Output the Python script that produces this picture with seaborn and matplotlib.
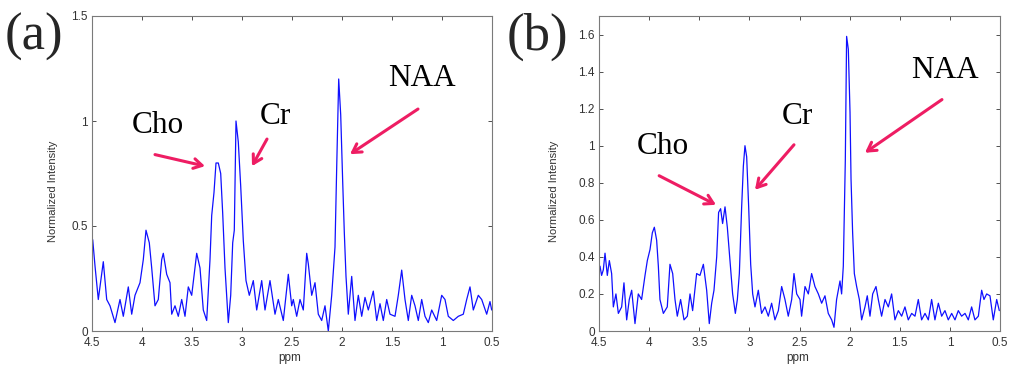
import matplotlib
matplotlib.use("Agg")
import matplotlib.pyplot as plt
import seaborn as sns
import pandas as pd

# ---- data ----
ppm_a = [4.493, 4.47, 4.437, 4.387, 4.353, 4.32, 4.27, 4.22, 4.187, 4.137, 4.103, 4.07, 4.02, 3.987,
         3.96, 3.927, 3.903, 3.87, 3.837, 3.803, 3.787, 3.753, 3.72, 3.703, 3.67, 3.637, 3.603, 3.57,
         3.537, 3.503, 3.453, 3.42, 3.387, 3.353, 3.32, 3.303, 3.28, 3.26, 3.237, 3.213, 3.193, 3.17,
         3.137, 3.113, 3.093, 3.077, 3.06, 3.037, 3.013, 2.987, 2.96, 2.927, 2.887, 2.853, 2.803, 2.77,
         2.72, 2.67, 2.637, 2.587, 2.537, 2.503, 2.487, 2.453, 2.42, 2.387, 2.353, 2.337, 2.303, 2.27,
         2.237, 2.203, 2.17, 2.137, 2.103, 2.07, 2.053, 2.033, 2.013, 1.993, 1.977, 1.96, 1.937, 1.903,
         1.87, 1.837, 1.803, 1.77, 1.737, 1.687, 1.653, 1.62, 1.587, 1.553, 1.52, 1.47, 1.437, 1.403,
         1.37, 1.337, 1.303, 1.27, 1.237, 1.203, 1.17, 1.137, 1.103, 1.053, 1.003, 0.97, 0.937, 0.887,
         0.837, 0.787, 0.753, 0.72, 0.687, 0.637, 0.603, 0.553, 0.52, 0.503]
int_a = [0.435, 0.31, 0.15, 0.33, 0.15, 0.12, 0.04, 0.15, 0.07, 0.21, 0.08, 0.17, 0.23, 0.34,
         0.48, 0.42, 0.30, 0.12, 0.15, 0.34, 0.37, 0.27, 0.23, 0.08, 0.12, 0.07, 0.15, 0.07,
         0.21, 0.17, 0.37, 0.30, 0.10, 0.05, 0.34, 0.55, 0.66, 0.80, 0.80, 0.75, 0.56, 0.30,
         0.04, 0.17, 0.42, 0.48, 1.00, 0.90, 0.69, 0.43, 0.24, 0.17, 0.24, 0.10, 0.24, 0.10,
         0.24, 0.08, 0.15, 0.05, 0.27, 0.12, 0.15, 0.07, 0.15, 0.10, 0.37, 0.32, 0.17, 0.23,
         0.08, 0.05, 0.12, 0.00, 0.17, 0.40, 0.78, 1.20, 1.03, 0.71, 0.47, 0.26, 0.08, 0.26,
         0.05, 0.17, 0.07, 0.16, 0.10, 0.19, 0.05, 0.13, 0.05, 0.15, 0.08, 0.07, 0.17, 0.29,
         0.15, 0.05, 0.17, 0.12, 0.05, 0.15, 0.07, 0.04, 0.10, 0.05, 0.17, 0.15, 0.07, 0.05,
         0.07, 0.08, 0.15, 0.21, 0.10, 0.17, 0.15, 0.08, 0.14, 0.10]

ppm_b = [4.49, 4.474, 4.457, 4.44, 4.417, 4.397, 4.374, 4.357, 4.331, 4.307, 4.274, 4.251, 4.224,
         4.198, 4.174, 4.141, 4.108, 4.075, 4.041, 4.018, 3.991, 3.968, 3.948, 3.925, 3.908, 3.892,
         3.858, 3.819, 3.792, 3.765, 3.742, 3.719, 3.686, 3.652, 3.619, 3.592, 3.566, 3.526, 3.493,
         3.459, 3.426, 3.400, 3.376, 3.353, 3.326, 3.307, 3.287, 3.267, 3.243, 3.220, 3.193, 3.167,
         3.140, 3.120, 3.100, 3.077, 3.060, 3.044, 3.027, 3.007, 2.987, 2.967, 2.944, 2.911, 2.878,
         2.844, 2.811, 2.778, 2.745, 2.711, 2.678, 2.645, 2.612, 2.578, 2.555, 2.528, 2.495, 2.479,
         2.445, 2.412, 2.379, 2.346, 2.312, 2.279, 2.246, 2.213, 2.179, 2.156, 2.130, 2.096, 2.080,
         2.063, 2.053, 2.043, 2.030, 2.013, 1.996, 1.986, 1.970, 1.953, 1.930, 1.903, 1.880, 1.847,
         1.824, 1.797, 1.770, 1.737, 1.714, 1.681, 1.647, 1.614, 1.581, 1.548, 1.514, 1.481, 1.448,
         1.415, 1.381, 1.348, 1.315, 1.282, 1.248, 1.215, 1.182, 1.149, 1.115, 1.082, 1.049, 1.016,
         0.982, 0.949, 0.916, 0.883, 0.849, 0.816, 0.783, 0.750, 0.716, 0.683, 0.660, 0.633, 0.600,
         0.567, 0.533, 0.507]
int_b = [0.35, 0.30, 0.33, 0.42, 0.30, 0.38, 0.31, 0.13, 0.20, 0.095, 0.13, 0.26, 0.06,
         0.17, 0.22, 0.04, 0.20, 0.17, 0.30, 0.38, 0.44, 0.53, 0.56, 0.49, 0.35, 0.17,
         0.095, 0.13, 0.36, 0.31, 0.17, 0.08, 0.17, 0.06, 0.08, 0.20, 0.11, 0.31, 0.30,
         0.36, 0.22, 0.04, 0.15, 0.22, 0.40, 0.64, 0.66, 0.58, 0.67, 0.56, 0.38, 0.20,
         0.095, 0.17, 0.31, 0.67, 0.89, 1.00, 0.94, 0.67, 0.36, 0.20, 0.13, 0.22, 0.095,
         0.13, 0.08, 0.15, 0.06, 0.11, 0.24, 0.17, 0.08, 0.17, 0.31, 0.20, 0.17, 0.08,
         0.24, 0.20, 0.31, 0.24, 0.20, 0.15, 0.19, 0.095, 0.06, 0.02, 0.17, 0.27, 0.20,
         0.35, 0.64, 0.92, 1.59, 1.52, 1.18, 0.82, 0.53, 0.31, 0.24, 0.17, 0.06, 0.13,
         0.19, 0.08, 0.20, 0.24, 0.17, 0.08, 0.17, 0.13, 0.20, 0.06, 0.11, 0.08, 0.13,
         0.06, 0.095, 0.08, 0.17, 0.06, 0.095, 0.06, 0.17, 0.06, 0.15, 0.08, 0.11, 0.06,
         0.095, 0.06, 0.11, 0.08, 0.095, 0.06, 0.13, 0.06, 0.08, 0.22, 0.17, 0.20, 0.19,
         0.06, 0.17, 0.11]

panel_labels = ["(a)", "(b)"]
peak_names = ["Cho", "Cr", "NAA"]
x_ticks = [4.5, 4, 3.5, 3, 2.5, 2, 1.5, 1, 0.5]
y_ticks_a = [0, 0.5, 1, 1.5]
y_ticks_b = [0, 0.2, 0.4, 0.6, 0.8, 1, 1.2, 1.4, 1.6]
# annotation anchors: (text pos, arrow tail, arrow head) in data coords
ann_a = [((3.84, 0.98), (3.87, 0.84), (3.37, 0.785)),
         ((2.67, 1.02), (2.75, 0.914), (2.90, 0.785)),
         ((1.20, 1.20), (1.24, 1.057), (1.92, 0.842))]
ann_b = [((3.86, 0.995), (3.90, 0.838), (3.333, 0.681)),
         ((2.525, 1.157), (2.555, 1.005), (2.944, 0.762)),
         ((1.049, 1.405), (1.079, 1.249), (1.847, 0.962))]

sns.set_style("ticks")
plt.rcParams['font.family'] = ['Liberation Sans', 'DejaVu Sans']

fig = plt.figure(figsize=(10.09, 3.68), dpi=100)
ax_a = fig.add_axes([92 / 1009, 37 / 368, 400 / 1009, 315 / 368])
ax_b = fig.add_axes([599 / 1009, 37 / 368, 401 / 1009, 315 / 368])

arrow_col = "#EE1D63"
txt_col = "#333333"
for ax, ppm, vals, yt, ylim, anns, lab, labx, ylx in [
        (ax_a, ppm_a, int_a, y_ticks_a, (0, 1.5), ann_a, panel_labels[0], 5, -0.085),
        (ax_b, ppm_b, int_b, y_ticks_b, (0, 1.7), ann_b, panel_labels[1], 507, -0.10)]:
    df = pd.DataFrame({"ppm": ppm, "val": vals})
    sns.lineplot(data=df, x="ppm", y="val", ax=ax, sort=False, color="#1010FF",
                 linewidth=0.9, estimator=None)
    ax.set_xlim(4.5, 0.5)
    ax.set_ylim(*ylim)
    ax.set_xticks(x_ticks)
    ax.set_xticklabels([f"{t:g}" for t in x_ticks])
    ax.set_yticks(yt)
    ax.set_yticklabels([f"{t:g}" for t in yt])
    ax.tick_params(direction="in", top=True, right=True, length=3, width=0.6,
                   labelsize=8.5, colors=txt_col)
    ax.tick_params(axis="x", pad=4)
    ax.tick_params(axis="y", pad=3)
    for sp in ax.spines.values():
        sp.set_color("#7a7a7a")
        sp.set_linewidth(0.8)
    ax.set_xlabel("ppm", fontsize=8.5, color=txt_col)
    ax.xaxis.set_label_coords(0.495, -0.066)
    ax.set_ylabel("Normalized Intensity", fontsize=8, color=txt_col)
    ax.yaxis.set_label_coords(ylx, 0.445)
    for name, (tpos, tail, head) in zip(peak_names, anns):
        ax.text(tpos[0], tpos[1], name, fontsize=22.5, family="Liberation Serif",
                ha="center", va="center", color="black")
        ax.annotate("", xy=head, xytext=tail,
                    arrowprops=dict(arrowstyle="->,head_length=0.6,head_width=0.35",
                                    color=arrow_col, lw=2.2, shrinkA=0, shrinkB=0))
    fig.text(labx / 1009, 1 - 37 / 368, lab, fontsize=38, family="Liberation Serif",
             ha="left", va="center")

fig.savefig("out.png", dpi=100)
